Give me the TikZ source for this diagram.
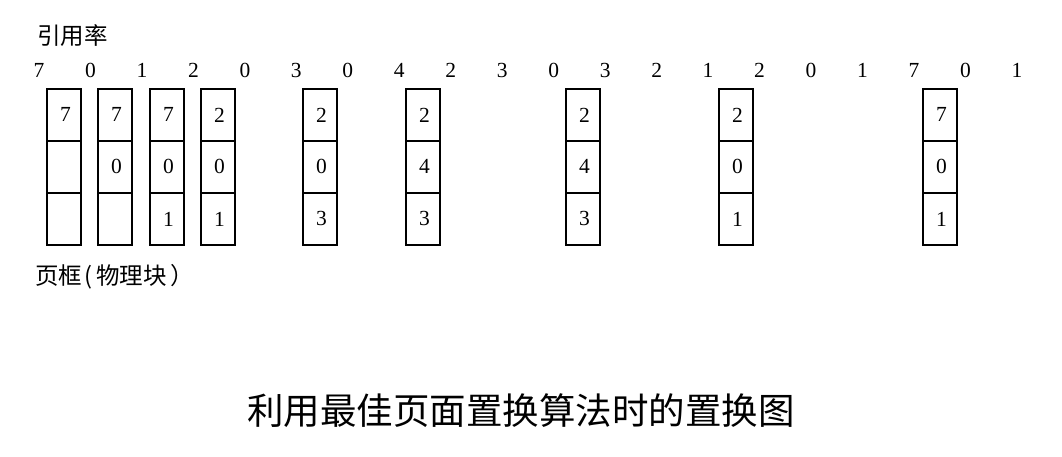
\documentclass[tikz,border=0pt]{standalone}
\usepackage{fontspec}
\setmainfont{Liberation Serif}
\newfontfamily\cjk{Noto Sans CJK SC}
\begin{document}
\begin{tikzpicture}[x=1pt,y=-1pt,
  refnum/.style={inner sep=0pt,font=\fontsize{21.5}{21.5}\selectfont},
  cell/.style={draw,line width=1.8pt,minimum width=34pt,minimum height=52pt,inner sep=0pt,anchor=north west,font=\fontsize{21.5}{21.5}\selectfont},
  cjklabel/.style={inner sep=0pt,anchor=west,font=\cjk\fontsize{23.5}{23.5}\selectfont},
  titletext/.style={inner sep=0pt,font=\cjk\fontsize{36.5}{36.5}\selectfont}]
\useasboundingbox (0,0) rectangle (1062,456);
\node[cjklabel] (lblref) at (37,36) {引用率};
\foreach \v [count=\i] in {7,0,1,2,0,3,0,4,2,3,0,3,2,1,2,0,1,7,0,1}{
  \pgfmathsetmacro{\xx}{39+51.47*(\i-1)}
  \node[refnum] (r\i) at (\xx,70) {\v};
}
\foreach \xl/\a/\b/\c [count=\k] in {46/7//,97/7/0/,149/7/0/1,200/2/0/1,302/2/0/3,405/2/4/3,565/2/4/3,718/2/0/1,922/7/0/1}{
  \node[cell] (c\k a) at (\xl,88) {\hspace{3pt}\a};
  \node[cell] (c\k b) at (\xl,140) {\hspace{3pt}\b};
  \node[cell] (c\k c) at (\xl,192) {\hspace{3pt}\c};
}
\node[cjklabel] (lblframe) at (35,277) {页框\hspace{2pt}(\hspace{4pt}物理块\hspace{4pt}）};
\node[titletext] (title) at (521,411) {利用最佳页面置换算法时的置换图};
\end{tikzpicture}
\end{document}
